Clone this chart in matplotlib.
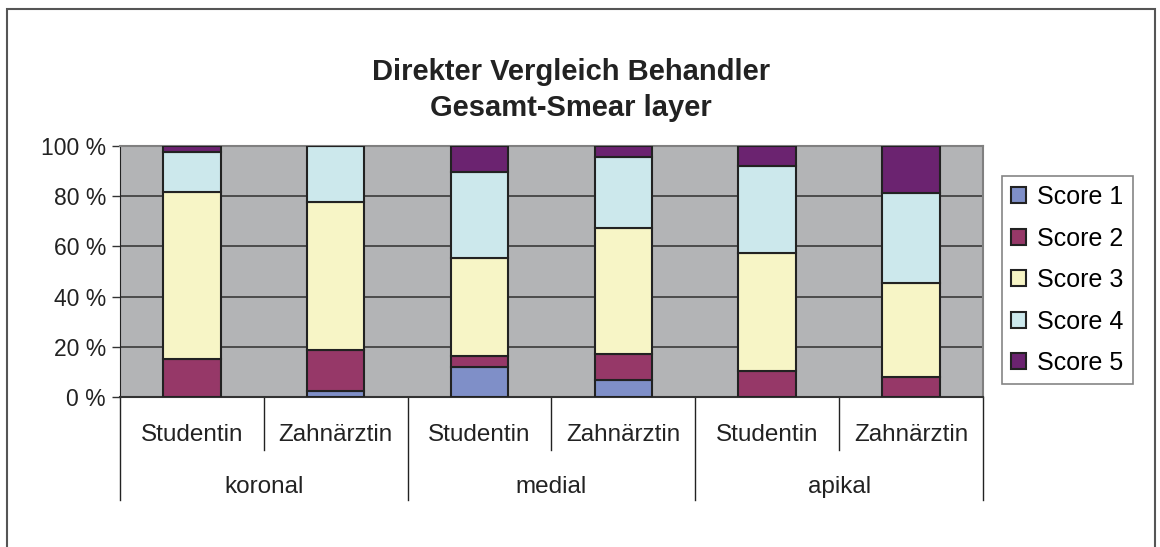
import matplotlib.pyplot as plt
from matplotlib.patches import Rectangle
import numpy as np

plt.rcParams['font.family'] = ['Liberation Sans', 'DejaVu Sans']

# Daten (Anteile in %)
behandler = ['Studentin', 'Zahnärztin', 'Studentin', 'Zahnärztin', 'Studentin', 'Zahnärztin']
regionen = ['koronal', 'medial', 'apikal']
score_namen = ['Score 1', 'Score 2', 'Score 3', 'Score 4', 'Score 5']
score1 = [0.0, 2.3, 11.8, 6.8, 0.0, 0.0]
score2 = [15.0, 16.3, 4.4, 10.5, 10.5, 8.1]
score3 = [66.5, 59.1, 39.1, 50.0, 46.9, 37.4]
score4 = [16.0, 22.3, 34.2, 28.2, 34.5, 35.9]
score5 = [2.5, 0.0, 10.5, 4.5, 8.1, 18.6]
farben = ['#7f8fc8', '#963868', '#f7f5c6', '#cce8ec', '#6b2370']

fig = plt.figure(figsize=(11.6, 5.47), dpi=100)
ax = fig.add_axes([0.1034, 0.2742, 0.744, 0.4589])
ax.set_facecolor('#b3b4b6')

# aeusserer Rahmen
fig.patches.append(Rectangle((7 / 1160, -0.05), 1148 / 1160, 1 - 9 / 547 + 0.05,
                             transform=fig.transFigure, fill=False,
                             edgecolor='#555555', linewidth=1.5))

x = np.arange(len(behandler))
unten = np.zeros(len(behandler))
for name, werte, farbe in zip(score_namen, [score1, score2, score3, score4, score5], farben):
    ax.bar(x, werte, 0.4, bottom=unten, color=farbe, edgecolor='#222222',
           linewidth=1.5, label=name, zorder=3)
    unten += np.array(werte)

ax.set_xlim(-0.5, 5.5)
ax.set_ylim(0, 100)
ax.set_yticks([0, 20, 40, 60, 80, 100])
ax.set_yticklabels(['0 %', '20 %', '40 %', '60 %', '80 %', '100 %'], fontsize=16.5, color='#222222')
ax.tick_params(axis='y', length=6, width=1, color='#333333', pad=4)
ax.set_xticks([])
for yv in [20, 40, 60, 80]:
    ax.axhline(yv, color='#3a3a3a', linewidth=1.2, zorder=1)
ax.spines['top'].set_color('#808080')
ax.spines['top'].set_linewidth(1.5)
ax.spines['right'].set_color('#808080')
ax.spines['right'].set_linewidth(1.5)
ax.spines['left'].set_color('#222222')
ax.spines['bottom'].set_color('#333333')
ax.spines['bottom'].set_linewidth(1.5)

# mehrstufige Kategorienachse
tr = ax.get_xaxis_transform()
for xb in [0.5, 2.5, 4.5]:
    ax.plot([xb, xb], [0, -0.211], transform=tr, color='#222222', linewidth=1, clip_on=False)
for xb in [-0.5, 1.5, 3.5, 5.5]:
    ax.plot([xb, xb], [0, -0.41], transform=tr, color='#222222', linewidth=1, clip_on=False)
for xi, name in zip(x, behandler):
    ax.text(xi, -0.151, name, transform=tr, ha='center', va='center', fontsize=17.5, color='#222222')
for i, name in enumerate(regionen):
    ax.text(2 * i + 0.5, -0.359, name, transform=tr, ha='center', va='center', fontsize=17.5, color='#222222')

fig.text(571 / 1160, 1 - 72 / 547, 'Direkter Vergleich Behandler', ha='center', va='center',
         fontsize=21, fontweight='bold', color='#222222')
fig.text(571 / 1160, 1 - 108 / 547, 'Gesamt-Smear layer', ha='center', va='center',
         fontsize=21, fontweight='bold', color='#222222')

leg = fig.legend(loc='upper left', bbox_to_anchor=(1002 / 1160, 1 - 176 / 547),
                 fontsize=18, frameon=True, fancybox=False, handlelength=0.6,
                 handleheight=0.6, handletextpad=0.45, labelspacing=0.7,
                 borderpad=0.36, borderaxespad=0)
leg.get_frame().set_edgecolor('#666666')
leg.get_frame().set_linewidth(1.2)
for h in leg.legend_handles:
    h.set_linewidth(1.5)

fig.savefig('out.png', dpi=100)
